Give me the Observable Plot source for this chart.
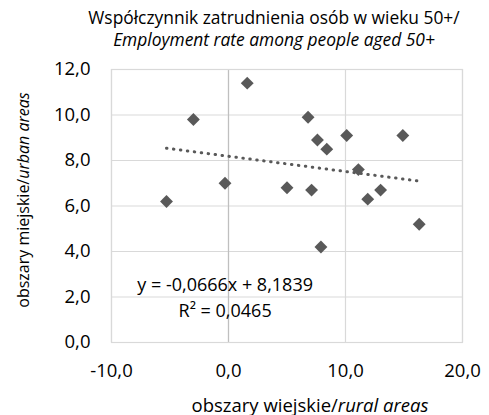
<!DOCTYPE html>
<html>
<head>
<meta charset="utf-8">
<script src="https://cdn.jsdelivr.net/npm/d3@7"></script>
<script src="https://cdn.jsdelivr.net/npm/@observablehq/plot@0.6"></script>
<style>
  body { margin: 0; background: #fff; font-family: "Open Sans", sans-serif; }
  #title { width: 489px; height: 56px; box-sizing: border-box; padding-left: 59px; padding-top: 6px;
           text-align: center; font-size: 17.4px; line-height: 22px; color: #000; white-space: nowrap; }
  #title i { font-style: italic; }
</style>
</head>
<body>
<div id="title">Współczynnik zatrudnienia osób w wieku 50+/<br><i>Employment rate among people aged 50+</i></div>
<div id="chart"></div>
<script>
// Data
const rural = [-5.3, -3.0, -0.3, 1.6, 5.0, 6.8, 7.1, 7.6, 7.9, 8.4, 10.1, 11.1, 11.9, 13.0, 14.9, 16.3];
const urban = [6.2, 9.8, 7.0, 11.4, 6.8, 9.9, 6.7, 8.9, 4.2, 8.5, 9.1, 7.6, 6.3, 6.7, 9.1, 5.2];
const xTicks = [-10, 0, 10, 20];
const yTicks = [0, 2, 4, 6, 8, 10, 12];
const eqTexts = ["y = -0,0666x + 8,1839", "R² = 0,0465"];
const eqX = [-0.29, -0.29];
const eqY = [2.50, 1.36];

const points = rural.map((x, i) => ({x, y: urban[i]}));
const eqs = eqTexts.map((t, i) => ({t, x: eqX[i], y: eqY[i]}));
const fmt = d => d.toFixed(1).replace(".", ",");
const FS = 18.5;

const plot = Plot.plot({
  width: 489,
  height: 359,
  marginTop: 13,
  marginBottom: 73,
  marginLeft: 111,
  marginRight: 27,
  style: {fontFamily: "'Open Sans', sans-serif", fontSize: FS + "px", color: "#000", background: "#fff"},
  x: {domain: [-10, 20], ticks: xTicks, tickFormat: fmt, label: "obszary wiejskie/rural areas", labelAnchor: "center", labelArrow: "none"},
  y: {domain: [0, 12], ticks: yTicks, tickFormat: fmt, label: "obszary miejskie/urban areas", labelAnchor: "center", labelArrow: "none"},
  marks: [
    Plot.gridY(yTicks, {stroke: "#d9d9d9", strokeOpacity: 1, strokeWidth: 1.2}),
    Plot.gridX(xTicks, {stroke: "#d9d9d9", strokeOpacity: 1, strokeWidth: 1.2}),
    Plot.ruleX([0], {stroke: "#bfbfbf", strokeWidth: 1.2}),
    Plot.frame({stroke: "#d9d9d9", strokeWidth: 1.2}),
    Plot.axisX({ticks: xTicks, tickFormat: fmt, tickSize: 0, tickPadding: 21, fontSize: FS, label: "obszary wiejskie/rural areas", labelAnchor: "center", labelArrow: "none", labelOffset: 69}),
    Plot.axisY({ticks: yTicks, tickFormat: fmt, tickSize: 0, tickPadding: 21, fontSize: 16, label: "obszary miejskie/urban areas", labelAnchor: "center", labelArrow: "none", labelOffset: 94}),
    Plot.linearRegressionY(points, {x: "x", y: "y", stroke: "#595959", strokeWidth: 3, strokeDasharray: "0.5,6.5", strokeLinecap: "round", ci: 0}),
    Plot.dot(points, {x: "x", y: "y", symbol: "diamond2", r: 5.8, fill: "#595959", stroke: "none"}),
    Plot.text(eqs, {x: "x", y: "y", text: "t", fontSize: 18, fill: "#000", textAnchor: "middle"})
  ]
});
document.getElementById("chart").appendChild(plot);

// y tick labels at the larger size, y label smaller
const svg = d3.select(plot);
svg.selectAll('g[aria-label="y-axis tick label"] text').attr("font-size", FS);
svg.selectAll('g[aria-label="y-axis tick label"]').attr("font-size", FS);

// italic second halves of axis labels, and nudge them as in the reference
function italicize(sel, shift) {
  sel.each(function() {
    const el = d3.select(this);
    const [a, b] = el.text().split("/");
    el.text("");
    el.append("tspan").text(a + "/");
    el.append("tspan").attr("font-style", "italic").text(b);
    el.attr("transform", (el.attr("transform") || "") + shift);
  });
}
italicize(svg.selectAll('g[aria-label="x-axis label"] text'), " translate(23,0)");
italicize(svg.selectAll('g[aria-label="y-axis label"] text'), " translate(6,0)");
</script>
</body>
</html>
